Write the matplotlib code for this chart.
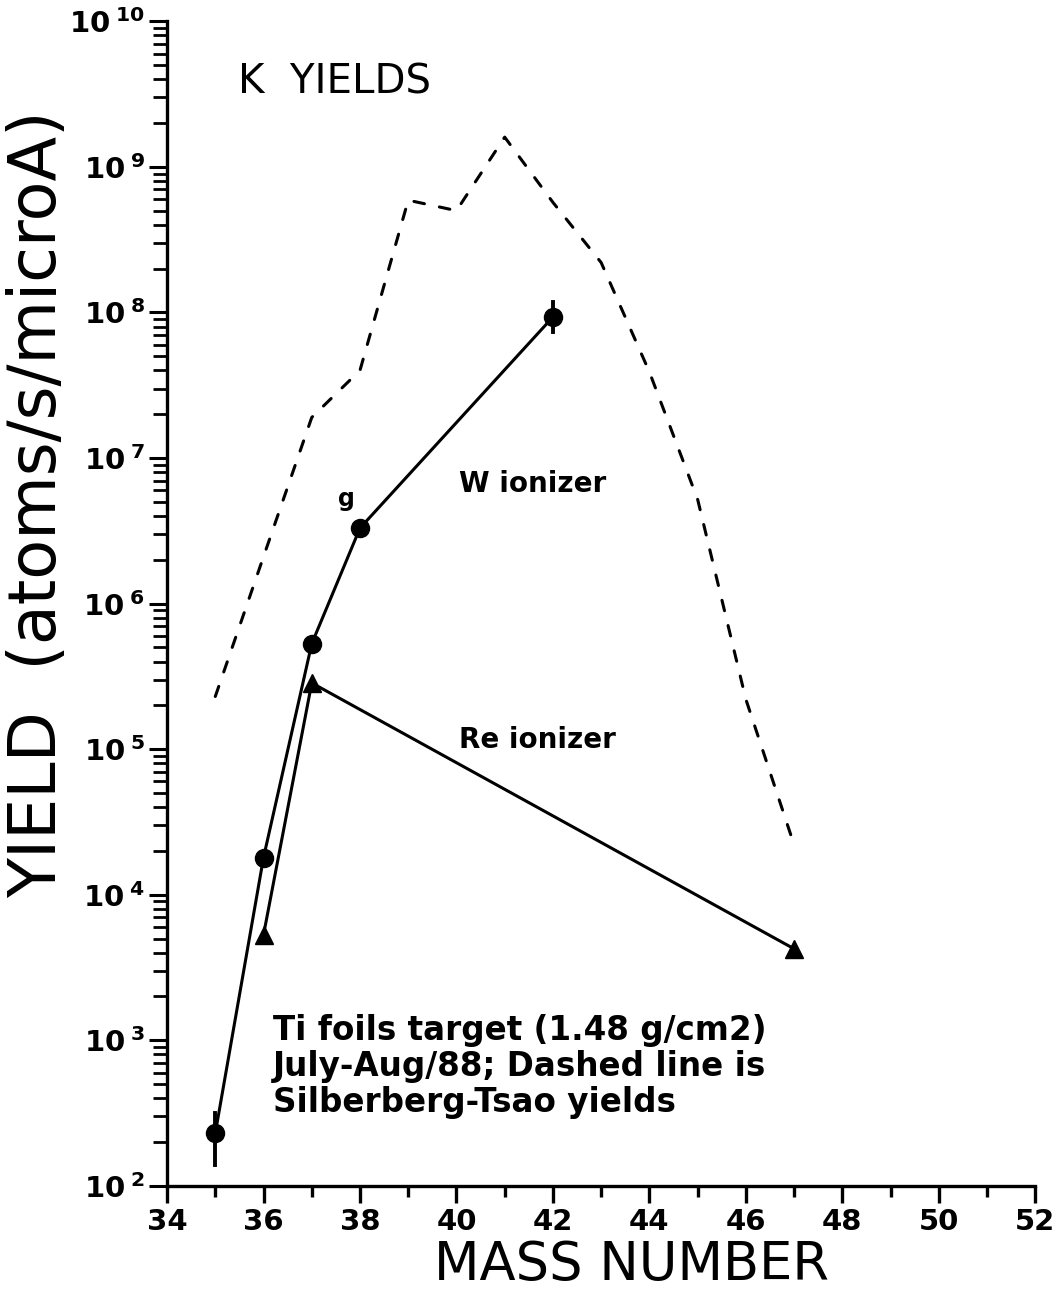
import matplotlib
matplotlib.use("Agg")
import matplotlib.pyplot as plt
from matplotlib.ticker import FixedLocator, NullFormatter, LogLocator, FixedFormatter

# ---- data ----
w_mass = [35, 36, 37, 38, 42]
w_yield = [230, 1.8e4, 5.3e5, 3.3e6, 9.3e7]
w_err_lo = [139, None, None, None, 7.3e7]
w_err_hi = [316, None, None, None, 1.18e8]

re_mass = [36, 37, 47]
re_yield = [5.3e3, 2.85e5, 4.25e3]

st_mass = [35, 36, 37, 38, 39, 40, 41, 42, 43, 44, 45, 46, 47]
st_yield = [2.3e5, 2.1e6, 1.9e7, 4.0e7, 5.9e8, 5.0e8, 1.6e9, 5.7e8,
            2.2e8, 3.9e7, 5.2e6, 2.2e5, 2.2e4]

x_major = [34, 36, 38, 40, 42, 44, 46, 48, 50, 52]
x_minor = [35, 37, 39, 41, 43, 45, 47, 49, 51]
y_exps = [2, 3, 4, 5, 6, 7, 8, 9, 10]

fig = plt.figure(figsize=(10.64, 12.89), dpi=100)
ax = fig.add_axes([0.157, 0.080, 0.816, 0.9035])

ax.set_yscale("log")
ax.set_xlim(34, 52)
ax.set_ylim(1e2, 1e10)

lw = 2.2
ax.plot(st_mass, st_yield, color="black", lw=lw, linestyle=(0, (3.5, 5)),
        dash_capstyle="round", solid_capstyle="round")
ax.plot(w_mass, w_yield, color="black", lw=lw, marker="o", markersize=13)
ax.plot(re_mass, re_yield, color="black", lw=lw, marker="^", markersize=13)

for m, lo, hi in zip(w_mass, w_err_lo, w_err_hi):
    if lo is not None:
        ax.plot([m, m], [lo, hi], color="black", lw=lw + 0.6)

# spines
for s in ["top", "right"]:
    ax.spines[s].set_visible(False)
for s in ["left", "bottom"]:
    ax.spines[s].set_linewidth(2.4)

# x ticks
ax.xaxis.set_major_locator(FixedLocator(x_major))
ax.xaxis.set_minor_locator(FixedLocator(x_minor))
ax.set_xticklabels([str(v) for v in x_major])
ax.tick_params(axis="x", which="major", direction="out", length=12, width=2.4,
               labelsize=21, pad=4)
ax.tick_params(axis="x", which="minor", direction="out", length=8, width=2.4)
for lab in ax.get_xticklabels():
    lab.set_fontweight("bold")

# y ticks
ax.yaxis.set_major_locator(FixedLocator([10.0 ** e for e in y_exps]))
ax.yaxis.set_major_formatter(FixedFormatter(
    [r"$\mathbf{10}^{\;\mathbf{%d}}$" % e for e in y_exps]))
ax.yaxis.set_minor_locator(LogLocator(base=10, subs=range(2, 10), numticks=20))
ax.yaxis.set_minor_formatter(NullFormatter())
ax.tick_params(axis="y", which="major", direction="out", length=13, width=2.2,
               labelsize=21, pad=3)
ax.tick_params(axis="y", which="minor", direction="out", length=10, width=2.0)

ax.set_xlabel("MASS NUMBER", fontsize=38)
ax.xaxis.set_label_coords(0.535, -0.046)
ax.set_ylabel("YIELD  (atoms/s/microA)", fontsize=47)
ax.yaxis.set_label_coords(-0.112, 0.585)

# annotations
ax.text(0.082, 0.947, "K  YIELDS", transform=ax.transAxes, fontsize=29,
        va="center", ha="left")
ax.text(40.05, 6.6e6, "W ionizer", fontsize=20, fontweight="bold",
        va="center", ha="left")
ax.text(40.05, 1.15e5, "Re ionizer", fontsize=20, fontweight="bold",
        va="center", ha="left")
ax.text(37.55, 4.3e6, "g", fontsize=17, fontweight="bold", va="bottom",
        ha="left")
ax.text(36.2, 6.6e2, "Ti foils target (1.48 g/cm2)\nJuly-Aug/88; Dashed line is\nSilberberg-Tsao yields",
        fontsize=23.5, fontweight="bold", va="center", ha="left", linespacing=1.12)

fig.savefig("out.png", dpi=100)
